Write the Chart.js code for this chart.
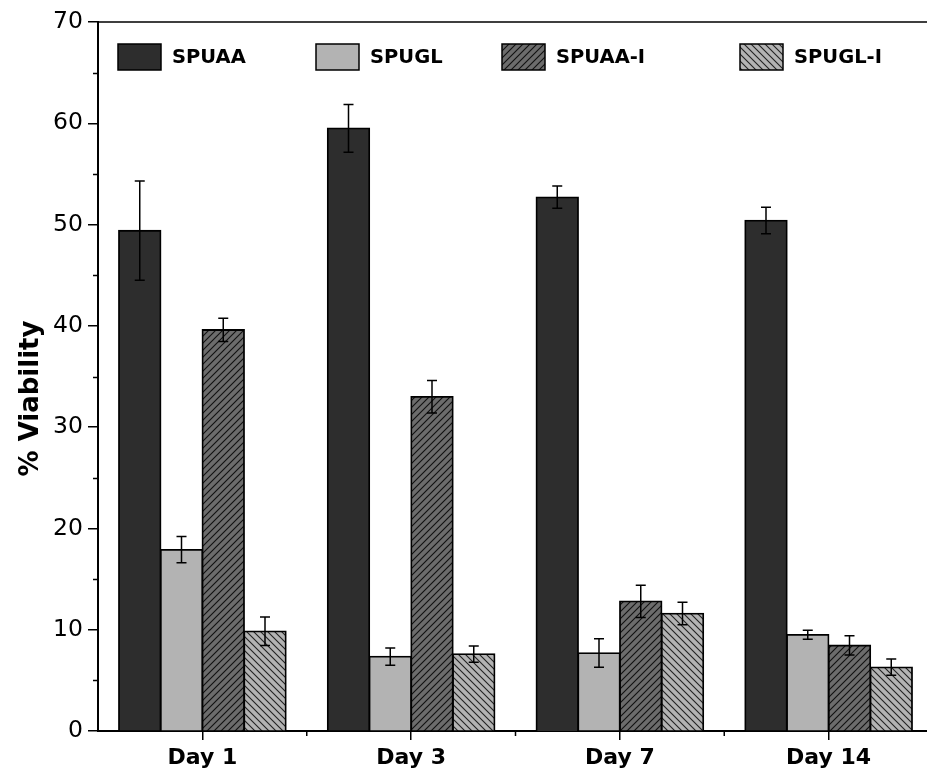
<!DOCTYPE html>
<html>
<head>
<meta charset="utf-8">
<script src="https://cdn.jsdelivr.net/npm/chart.js@4.4.1/dist/chart.umd.min.js"></script>
<style>
html,body{margin:0;padding:0;background:#fff;overflow:hidden;width:927px;height:778px;}
#wrap{position:absolute;left:0;top:0;width:936px;height:778px;}
</style>
</head>
<body>
<div id="wrap"><canvas id="c" width="936" height="778"></canvas></div>
<script>
// ---- data ----
const categories = ['Day 1', 'Day 3', 'Day 7', 'Day 14'];
const seriesNames = ['SPUAA', 'SPUGL', 'SPUAA-I', 'SPUGL-I'];
const spuaa = [49.4, 59.5, 52.7, 50.4];
const spuaaErr = [4.9, 2.35, 1.1, 1.3];
const spugl = [17.9, 7.35, 7.7, 9.5];
const spuglErr = [1.3, 0.85, 1.4, 0.45];
const spuaaI = [39.6, 33.0, 12.8, 8.45];
const spuaaIErr = [1.15, 1.6, 1.6, 0.95];
const spuglI = [9.85, 7.6, 11.6, 6.3];
const spuglIErr = [1.4, 0.8, 1.1, 0.8];
const yTickValues = [0, 10, 20, 30, 40, 50, 60, 70];
const yTitle = '% Viability';

const canvas = document.getElementById('c');
const ctx = canvas.getContext('2d');

function hatch(bg, line, dir) {
  const s = 7;
  const c = document.createElement('canvas');
  c.width = s; c.height = s;
  const g = c.getContext('2d');
  g.fillStyle = bg; g.fillRect(0, 0, s, s);
  g.strokeStyle = line; g.lineWidth = 1.1;
  g.beginPath();
  if (dir > 0) {
    g.moveTo(-1, s + 1); g.lineTo(s + 1, -1);
    g.moveTo(-1, 1); g.lineTo(1, -1);
    g.moveTo(s - 1, s + 1); g.lineTo(s + 1, s - 1);
  } else {
    g.moveTo(-1, -1); g.lineTo(s + 1, s + 1);
    g.moveTo(s - 1, -1); g.lineTo(s + 1, 1);
    g.moveTo(-1, s - 1); g.lineTo(1, s + 1);
  }
  g.stroke();
  return ctx.createPattern(c, 'repeat');
}

const fills = [
  '#2d2d2d',
  '#b3b3b3',
  hatch('#6c6c6c', '#111', 1),
  hatch('#b3b3b3', '#222', -1)
];
const values = [spuaa, spugl, spuaaI, spuglI];
const errors = [spuaaErr, spuglErr, spuaaIErr, spuglIErr];

const datasets = seriesNames.map((name, i) => ({
  label: name,
  data: values[i],
  errors: errors[i],
  backgroundColor: fills[i],
  borderColor: '#000',
  borderWidth: 1.8,
  borderSkipped: 'bottom',
  inflateAmount: 0.8,
  categoryPercentage: 0.8,
  barPercentage: 1.0
}));

const bgPlugin = {
  id: 'bg',
  beforeDraw(chart) {
    const c = chart.ctx;
    c.save(); c.fillStyle = '#fff'; c.fillRect(0, 0, chart.width, chart.height); c.restore();
  }
};

const errPlugin = {
  id: 'errbars',
  afterDatasetsDraw(chart) {
    const c = chart.ctx;
    const ys = chart.scales.y;
    c.save();
    c.strokeStyle = '#000';
    c.lineWidth = 1.5;
    chart.data.datasets.forEach((ds, i) => {
      const meta = chart.getDatasetMeta(i);
      meta.data.forEach((bar, j) => {
        const v = ds.data[j], e = ds.errors[j];
        const x = bar.x;
        const yt = ys.getPixelForValue(v + e);
        const yb = ys.getPixelForValue(v - e);
        c.beginPath();
        c.moveTo(x, yt); c.lineTo(x, yb);
        c.moveTo(x - 5, yt); c.lineTo(x + 5, yt);
        c.moveTo(x - 5, yb); c.lineTo(x + 5, yb);
        c.stroke();
      });
    });
    c.restore();
  }
};

const framePlugin = {
  id: 'frame',
  afterDraw(chart) {
    const c = chart.ctx;
    const a = chart.chartArea;
    const ys = chart.scales.y, xs = chart.scales.x;
    c.save();
    c.strokeStyle = '#000';
    c.lineWidth = 1.5;
    c.beginPath();
    c.moveTo(a.left, a.top); c.lineTo(a.right, a.top);
    c.moveTo(a.right, a.top); c.lineTo(a.right, a.bottom);
    // minor y ticks
    for (let v = 5; v < 70; v += 10) {
      const y = Math.round(ys.getPixelForValue(v)) + 0.5;
      c.moveTo(a.left - 5, y); c.lineTo(a.left, y);
    }
    // minor x ticks between categories
    for (let i = 0; i < categories.length - 1; i++) {
      const x = (xs.getPixelForValue(i) + xs.getPixelForValue(i + 1)) / 2;
      c.moveTo(x, a.bottom); c.lineTo(x, a.bottom + 5);
    }
    c.stroke();

    // y title
    c.fillStyle = '#000';
    c.font = 'bold 26px "DejaVu Sans"';
    c.textAlign = 'center';
    c.textBaseline = 'middle';
    c.translate(31, (a.top + a.bottom) / 2 + 22);
    c.rotate(-Math.PI / 2);
    c.fillText(yTitle, 0, 0);
    c.restore();

    // legend
    const offs = [20, 218, 404, 642];
    c.save();
    c.font = 'bold 19.5px "DejaVu Sans"';
    c.textBaseline = 'middle';
    c.textAlign = 'left';
    chart.data.datasets.forEach((ds, i) => {
      const bx = a.left + offs[i], by = a.top + 22;
      c.fillStyle = ds.backgroundColor;
      c.fillRect(bx, by, 43, 26);
      c.strokeStyle = '#000';
      c.lineWidth = 1.5;
      c.strokeRect(bx, by, 43, 26);
      c.fillStyle = '#000';
      c.fillText(ds.label, bx + 54, by + 14);
    });
    c.restore();
  }
};

new Chart(ctx, {
  type: 'bar',
  data: { labels: categories, datasets },
  plugins: [bgPlugin, errPlugin, framePlugin],
  options: {
    responsive: false,
    animation: false,
    devicePixelRatio: 1,
    layout: { padding: { top: 22, right: 3, left: 0, bottom: 0 } },
    plugins: { legend: { display: false }, tooltip: { enabled: false }, title: { display: false } },
    scales: {
      x: {
        offset: true,
        grid: { display: true, drawOnChartArea: false, drawTicks: true, tickLength: 9, offset: false, color: '#000', lineWidth: 1.5 },
        border: { display: true, color: '#000', width: 2 },
        ticks: { color: '#000', font: { family: 'DejaVu Sans', size: 22, weight: 'bold' }, padding: 5, maxRotation: 0 },
        afterFit(s) { s.height = 47; }
      },
      y: {
        min: 0, max: 70,
        afterBuildTicks(s) { s.ticks = yTickValues.map(v => ({ value: v })); },
        grid: { display: true, drawOnChartArea: false, drawTicks: true, tickLength: 10, color: '#000', lineWidth: 1.5 },
        border: { display: true, color: '#000', width: 2 },
        ticks: { color: '#000', font: { family: 'DejaVu Sans', size: 23.5 }, padding: 5 },
        afterFit(s) { s.width = 98; }
      }
    }
  }
});
</script>
</body>
</html>
